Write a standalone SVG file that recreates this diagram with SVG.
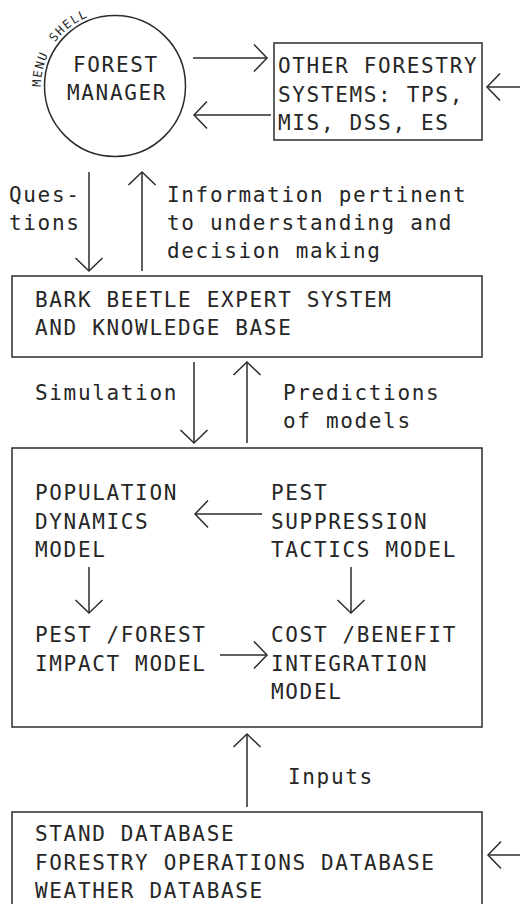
<svg xmlns="http://www.w3.org/2000/svg" width="520" height="904" viewBox="0 0 520 904">
<style>
  .ln { fill: none; stroke: #2b2b2b; stroke-width: 1.5; }
  .bx { fill: none; stroke: #2b2b2b; stroke-width: 1.5; }
  .t { font-family: "DejaVu Sans Mono", "Liberation Mono", monospace; font-size: 21px; letter-spacing: 1.66px; fill: #262626; }
  .sm { font-family: "DejaVu Sans Mono", "Liberation Mono", monospace; font-size: 12px; letter-spacing: 1.4px; fill: #262626; }
</style>
<defs>
  <marker id="ah" markerUnits="userSpaceOnUse" markerWidth="32" markerHeight="32" viewBox="-16 -16 32 32" refX="0" refY="0" orient="auto" overflow="visible">
    <path d="M-13,-13.5 L0,0 L-13,13.5" fill="none" stroke="#2b2b2b" stroke-width="1.5"/>
  </marker>
  <path id="arcp" d="M 42.1 98.8 A 74 74 0 0 1 115 12"/>
</defs>
<rect width="520" height="904" fill="#fff"/>

<g id="forest-manager">
  <circle class="bx" cx="115" cy="86" r="70.5"/>
  <text class="t" x="73" y="72">FOREST</text>
  <text class="t" x="67" y="100">MANAGER</text>
  <text class="sm"><textPath href="#arcp" startOffset="12">MENU</textPath></text>
  <text class="sm"><textPath href="#arcp" startOffset="59">SHELL</textPath></text>
</g>

<g id="other-systems">
  <rect class="bx" x="274" y="43" width="208" height="97"/>
  <text class="t" x="278" y="73">OTHER FORESTRY</text>
  <text class="t" x="278" y="102">SYSTEMS: TPS,</text>
  <text class="t" x="278" y="130">MIS, DSS, ES</text>
</g>

<g id="expert-system">
  <rect class="bx" x="12" y="276" width="470" height="81"/>
  <text class="t" x="35" y="306.5">BARK BEETLE EXPERT SYSTEM</text>
  <text class="t" x="35" y="335">AND KNOWLEDGE BASE</text>
</g>

<g id="models">
  <rect class="bx" x="12" y="448" width="470" height="279"/>
  <g id="population-dynamics">
    <text class="t" x="35" y="500">POPULATION</text>
    <text class="t" x="35" y="528.5">DYNAMICS</text>
    <text class="t" x="35" y="557">MODEL</text>
  </g>
  <g id="pest-suppression">
    <text class="t" x="271" y="500">PEST</text>
    <text class="t" x="271" y="528.5">SUPPRESSION</text>
    <text class="t" x="271" y="557">TACTICS MODEL</text>
  </g>
  <g id="pest-forest-impact">
    <text class="t" x="35" y="642">PEST /FOREST</text>
    <text class="t" x="35" y="670.5">IMPACT MODEL</text>
  </g>
  <g id="cost-benefit">
    <text class="t" x="271" y="642">COST /BENEFIT</text>
    <text class="t" x="271" y="670.5">INTEGRATION</text>
    <text class="t" x="271" y="699">MODEL</text>
  </g>
</g>

<g id="databases">
  <rect class="bx" x="12" y="812" width="470" height="130"/>
  <text class="t" x="35" y="841">STAND DATABASE</text>
  <text class="t" x="35" y="869.5">FORESTRY OPERATIONS DATABASE</text>
  <text class="t" x="35" y="898">WEATHER DATABASE</text>
</g>

<g id="connectors">
  <line class="ln" x1="193" y1="58" x2="267" y2="58" marker-end="url(#ah)"/>
  <line class="ln" x1="271" y1="115" x2="194" y2="115" marker-end="url(#ah)"/>
  <line class="ln" x1="520" y1="87" x2="487" y2="87" marker-end="url(#ah)"/>
  <line class="ln" x1="89" y1="172" x2="89" y2="271" marker-end="url(#ah)"/>
  <line class="ln" x1="142" y1="271" x2="142" y2="172" marker-end="url(#ah)"/>
  <line class="ln" x1="194" y1="362" x2="194" y2="443" marker-end="url(#ah)"/>
  <line class="ln" x1="247" y1="443" x2="247" y2="362" marker-end="url(#ah)"/>
  <line class="ln" x1="262" y1="514" x2="195" y2="514" marker-end="url(#ah)"/>
  <line class="ln" x1="89" y1="567" x2="89" y2="613" marker-end="url(#ah)"/>
  <line class="ln" x1="351" y1="567" x2="351" y2="613" marker-end="url(#ah)"/>
  <line class="ln" x1="220" y1="655" x2="267" y2="655" marker-end="url(#ah)"/>
  <line class="ln" x1="247" y1="807" x2="247" y2="734" marker-end="url(#ah)"/>
  <line class="ln" x1="520" y1="855" x2="488" y2="855" marker-end="url(#ah)"/>
</g>

<g id="labels">
  <text class="t" x="9" y="202">Ques-</text>
  <text class="t" x="9" y="230">tions</text>
  <text class="t" x="167" y="202">Information pertinent</text>
  <text class="t" x="167" y="230">to understanding and</text>
  <text class="t" x="167" y="258">decision making</text>
  <text class="t" x="35" y="400">Simulation</text>
  <text class="t" x="283" y="400">Predictions</text>
  <text class="t" x="283" y="428">of models</text>
  <text class="t" x="288" y="784">Inputs</text>
</g>
</svg>
